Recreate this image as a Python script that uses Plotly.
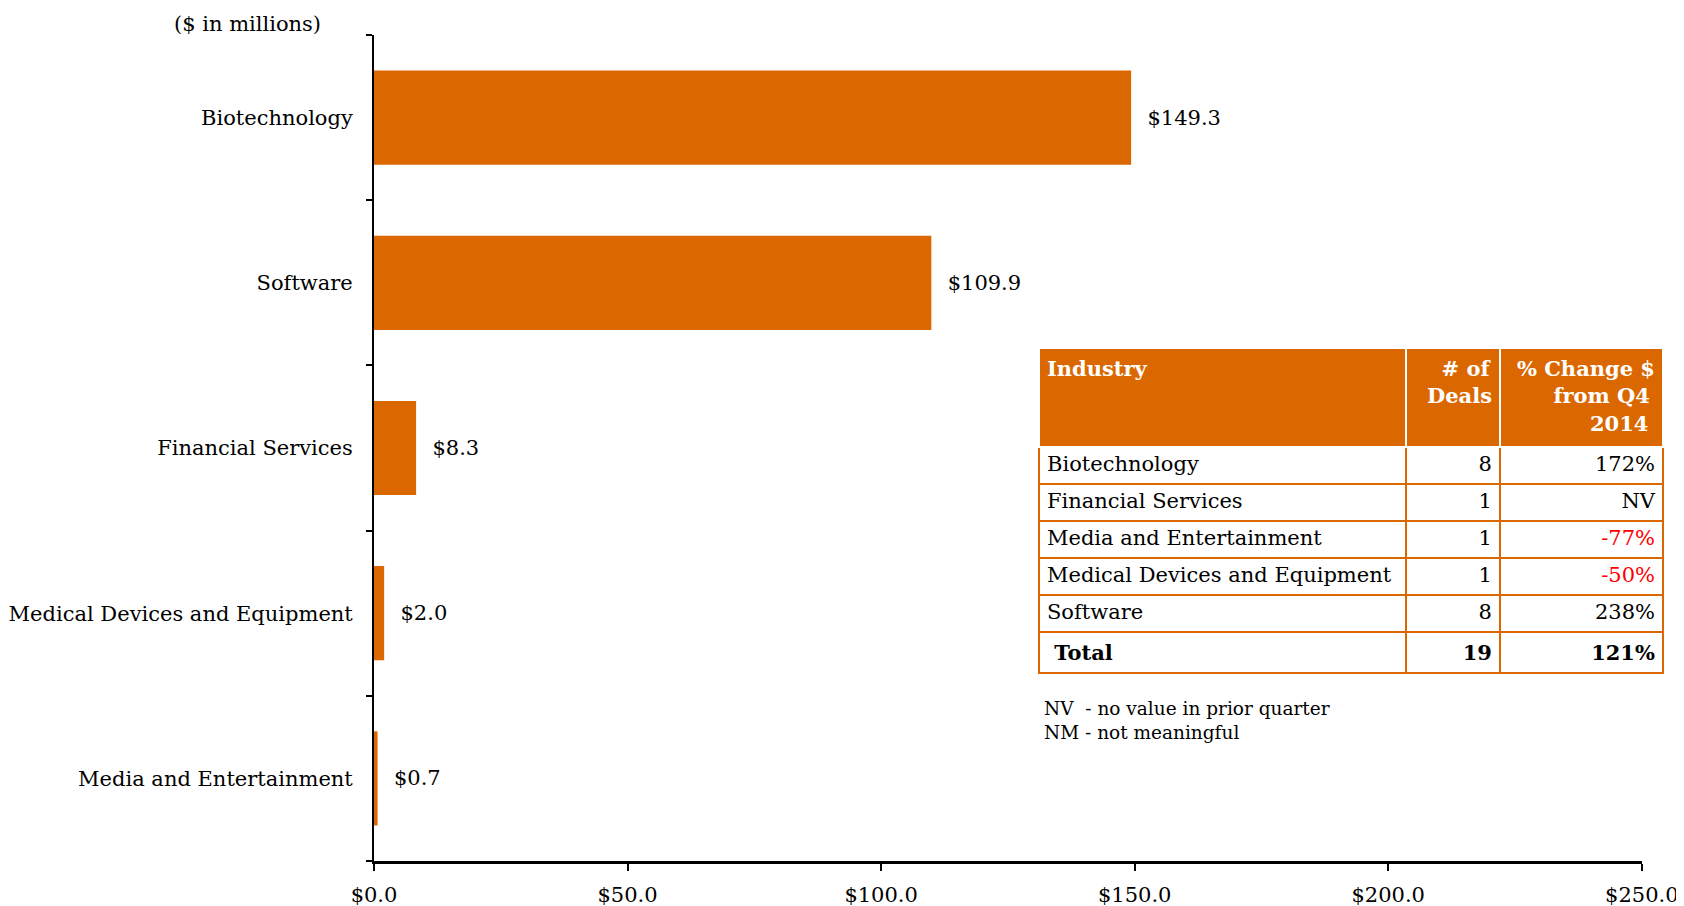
import plotly.graph_objects as go

# bar chart data ($ in millions)
industries = ["Biotechnology", "Software", "Financial Services",
              "Medical Devices and Equipment", "Media and Entertainment"]
amounts = [149.3, 109.9, 8.3, 2.0, 0.7]

# table data
tbl_industry = ["Biotechnology", "Financial Services", "Media and Entertainment",
                "Medical Devices and Equipment", "Software", "<b> Total</b>"]
tbl_deals = ["8", "1", "1", "1", "8", "<b>19</b>"]
tbl_change = ["172%", "NV", "-77%", "-50%", "238%", "<b>121%</b>"]

nb = "\u00a0"
tbl_header = ["<b>Industry</b>",
              "<b>" + nb * 2 + "# of<br>Deals</b>",
              "<b>% Change $<br>" + nb * 5 + "from Q4<br>" + nb * 10 + "2014</b>"]

orange = "#DB6700"
font = "DejaVu Serif"

change_colors = ["red" if c.startswith("-") else "black" for c in tbl_change]

bars = go.Bar(
    x=amounts, y=industries, orientation="h",
    marker=dict(color=orange, line=dict(width=0)),
    texttemplate=nb * 2 + "$%{x:.1f}", textposition="outside",
    textfont=dict(family=font, size=21, color="black"),
    cliponaxis=False, width=0.57,
)

table = go.Table(
    domain=dict(x=[0.5135, 0.9954], y=[0.15, 0.621]),
    columnwidth=[367, 94, 163],
    header=dict(
        values=tbl_header,
        fill_color=orange,
        line=dict(color="white", width=2),
        align=["left", "right", "right"],
        font=dict(family=font, size=21, color="white"),
        height=99,
    ),
    cells=dict(
        values=[tbl_industry, tbl_deals, tbl_change],
        fill_color="white",
        line=dict(color=orange, width=2),
        align=["left", "right", "right"],
        font=dict(family=font, size=21,
                  color=[["black"] * 6, ["black"] * 6, change_colors]),
        height=37,
    ),
)

fig = go.Figure(data=[bars, table])

# page body has an 8px margin, so the figure is 8px smaller than the window
fig.update_layout(
    width=1676, height=898,
    margin=dict(l=366, r=15, t=27, b=45),
    paper_bgcolor="white", plot_bgcolor="white",
    showlegend=False,
    font=dict(family=font, size=21, color="black"),
    bargap=0.43,
    xaxis=dict(
        domain=[0, 0.979], range=[0, 250], dtick=50,
        tickprefix="$", tickformat=".1f",
        showgrid=False, zeroline=False,
        showline=True, linecolor="black", linewidth=3,
        ticks="outside", ticklen=7, tickcolor="black", tickwidth=2,
        ticklabelstandoff=6, automargin=False,
    ),
    yaxis=dict(
        categoryorder="array", categoryarray=industries[::-1],
        showgrid=False, zeroline=False,
        showline=True, linecolor="black", linewidth=2,
        ticks="outside", tickson="boundaries", ticklen=6,
        tickcolor="black", tickwidth=2,
        ticklabelstandoff=15, automargin=False,
    ),
    annotations=[
        dict(text="($ in millions)", xref="paper", yref="paper",
             x=-0.098, y=1.0, yanchor="bottom", xanchor="center", yshift=-3,
             showarrow=False, font=dict(family=font, size=21)),
        dict(text="NV  - no value in prior quarter<br>NM - not meaningful",
             xref="paper", yref="paper", x=0.516, y=0.2,
             xanchor="left", yanchor="top", align="left",
             showarrow=False, font=dict(family=font, size=18.5)),
    ],
)

fig.write_html("out.html")
